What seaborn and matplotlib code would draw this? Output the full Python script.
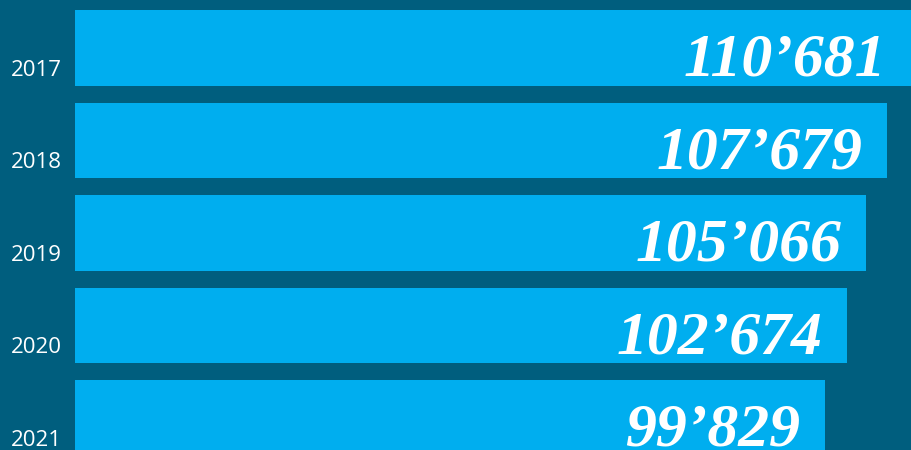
import matplotlib
matplotlib.use("Agg")
import matplotlib.pyplot as plt
import seaborn as sns

years = ["2017", "2018", "2019", "2020", "2021"]
values = [110681, 107679, 105066, 102674, 99829]

bg = "#005E7E"
bar_color = "#00AEEF"

sns.set_style("white")
plt.rcParams["font.family"] = ["Open Sans", "DejaVu Sans"]

fig = plt.figure(figsize=(9.11, 4.5), dpi=100, facecolor=bg)
ax = fig.add_axes([75 / 911, 0, 836 / 911, 1])
ax.set_facecolor(bg)

sns.barplot(x=values, y=years, orient="h", color=bar_color, saturation=1,
            width=0.82, linewidth=0, edgecolor=bar_color, ax=ax)

ax.set_xlim(5400, 110700)
ax.set_ylim(4.346, -0.519)
ax.set_axis_off()

for i, (yr, v) in enumerate(zip(years, values)):
    label = f"{v:,}".replace(",", "\u2019")
    ax.annotate(label, xy=(v, i + 0.41), xytext=(-25, 10),
                textcoords="offset pixels", ha="right", va="baseline",
                color="white", fontsize=44.5, fontweight="bold", fontstyle="italic",
                family=["Liberation Serif", "DejaVu Serif"],
                annotation_clip=False)
    ax.annotate(yr, xy=(0, i + 0.41), xycoords=("axes fraction", "data"),
                xytext=(-64, 10), textcoords="offset pixels",
                ha="left", va="baseline", color="white", fontsize=16,
                annotation_clip=False)

fig.savefig("out.png", dpi=100, facecolor=bg)
